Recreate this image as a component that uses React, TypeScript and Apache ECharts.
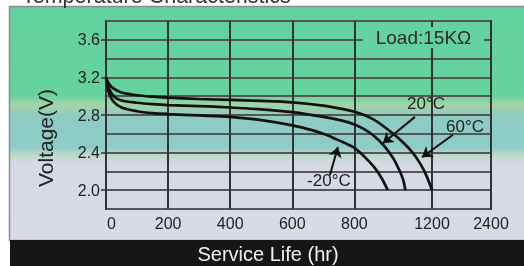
import React, { useEffect, useRef } from 'react';
import * as echarts from 'echarts';

// ---- data (hours, volts) ----
const xTickHours = [0, 200, 400, 600, 800, 1200, 2400];
const xTickLabels = ['0', '200', '400', '600', '800', '1200', '2400'];
const yTickValues = [2.0, 2.4, 2.8, 3.2, 3.6];

const hours60 = [0, 10, 25, 50, 100, 150, 200, 300, 400, 500, 600, 700, 760, 800, 850, 900, 950, 1000, 1050, 1100, 1140, 1170, 1200];
const volts60 = [3.2, 3.13, 3.08, 3.04, 3.01, 2.995, 2.985, 2.97, 2.96, 2.95, 2.935, 2.9, 2.865, 2.835, 2.8, 2.75, 2.68, 2.6, 2.51, 2.4, 2.28, 2.16, 2.0];

const hours20 = [0, 10, 25, 50, 100, 150, 200, 300, 400, 500, 600, 700, 760, 800, 850, 900, 950, 1000, 1030, 1050, 1063];
const volts20 = [3.2, 3.08, 3.0, 2.955, 2.93, 2.915, 2.905, 2.895, 2.88, 2.86, 2.83, 2.78, 2.74, 2.7, 2.65, 2.58, 2.48, 2.34, 2.22, 2.12, 2.0];

const hoursM20 = [0, 10, 25, 50, 100, 150, 200, 300, 400, 500, 600, 650, 700, 750, 800, 850, 900, 940, 972];
const voltsM20 = [3.2, 3.03, 2.94, 2.88, 2.84, 2.82, 2.81, 2.795, 2.78, 2.745, 2.69, 2.65, 2.6, 2.53, 2.45, 2.36, 2.25, 2.13, 2.0];

// annotation labels and arrows (hours, volts)
const labelNames = ['20°C', '60°C', '-20°C'];
const labelHours = [1169, 1871, 718];
const labelVolts = [2.92, 2.68, 2.1];
const arrowFromHours = [1112, 1627, 721];
const arrowFromVolts = [2.78, 2.59, 2.16];
const arrowToHours = [947, 1148, 747];
const arrowToVolts = [2.5, 2.35, 2.46];

// the original axis is not uniform: 0-800 linear, 800-1200 compressed, 1200-2400 more compressed
const toAxis = (h: number) =>
  h <= 800 ? h : h <= 1200 ? 800 + (h - 800) * 0.625 : 1050 + (h - 1200) * (190 / 1200);

const FONT = '"Liberation Sans", Arial, Helvetica, sans-serif';

export default function App() {
  const ref = useRef<HTMLDivElement>(null);
  useEffect(() => {
    if (!ref.current) return;
    const chart = echarts.init(ref.current, undefined, { renderer: 'svg' });
    const tickPos = xTickHours.map(toAxis);
    const pts = (hs: number[], vs: number[]) => hs.map((h, i) => [toAxis(h), vs[i]]);

    const bg = new echarts.graphic.LinearGradient(0, 0, 0, 1, [
      { offset: 0, color: '#62d39e' },
      { offset: 0.38, color: '#66d29e' },
      { offset: 0.42, color: '#a3d4a6' },
      { offset: 0.47, color: '#8dcbc3' },
      { offset: 0.6, color: '#8ecbc8' },
      { offset: 0.635, color: '#bcd9c6' },
      { offset: 0.67, color: '#d5d9e3' },
      { offset: 1, color: '#d8dbe5' },
    ]);

    const lineStyle = { color: '#111', width: 2.7 };
    const common = {
      type: 'line',
      smooth: 0.3,
      showSymbol: false,
      symbol: 'none',
      lineStyle,
      silent: true,
    };

    chart.setOption({
      animation: false,
      grid: {
        left: 106,
        right: 33,
        top: 21,
        bottom: 57,
        show: true,
        borderColor: '#222',
        borderWidth: 2,
        backgroundColor: 'transparent',
      },
      xAxis: {
        type: 'value',
        min: 0,
        max: toAxis(2400),
        axisLine: { show: false },
        axisTick: { show: false, customValues: tickPos },
        axisLabel: {
          customValues: tickPos,
          fontSize: 16,
          color: '#222',
          fontFamily: FONT,
          margin: 6,
          formatter: (v: number) => {
            const i = tickPos.findIndex((p) => Math.abs(p - v) < 1e-6);
            if (i < 0) return '';
            return i === 0 ? '{z|' + xTickLabels[i] + '}' : xTickLabels[i];
          },
          rich: { z: { padding: [0, 0, 0, 11], fontSize: 16, color: '#222', fontFamily: FONT } },
        },
        splitLine: { show: true, lineStyle: { color: '#333', width: 2 } },
      },
      yAxis: [
        {
          type: 'value',
          min: 1.8,
          max: 3.8,
          interval: 0.2,
          axisLine: { show: false },
          axisTick: { show: true, customValues: yTickValues, length: 5, lineStyle: { color: '#333', width: 1.5 } },
          axisLabel: {
            customValues: yTickValues,
            fontSize: 16,
            color: '#222',
            fontFamily: FONT,
            margin: 6,
            formatter: (v: number) => v.toFixed(1),
          },
          splitLine: { show: false },
        },
        {
          type: 'value',
          min: 1.8,
          max: 3.8,
          interval: 0.2,
          position: 'left',
          axisLine: { show: false },
          axisTick: { show: false },
          axisLabel: { show: false },
          splitLine: { show: true, lineStyle: { color: '#555', width: 2 } },
        },
      ],
      series: [
        {
          ...common,
          name: '60°C',
          data: pts(hours60, volts60),
          markLine: {
            silent: true,
            symbol: ['none', 'arrow'],
            symbolSize: 10,
            label: { show: false },
            lineStyle: { color: '#111', width: 2, type: 'solid' },
            data: arrowFromHours.map((h, i) => [
              { coord: [toAxis(h), arrowFromVolts[i]] },
              { coord: [toAxis(arrowToHours[i]), arrowToVolts[i]] },
            ]),
          },
          markPoint: {
            silent: true,
            symbol: 'circle',
            symbolSize: 1,
            itemStyle: { color: 'rgba(0,0,0,0)' },
            label: {
              show: true,
              position: 'inside',
              formatter: '{b}',
              fontSize: 17,
              color: '#1e1e1e',
              fontFamily: FONT,
            },
            data: labelNames.map((n, i) => ({ name: n, coord: [toAxis(labelHours[i]), labelVolts[i]] })),
          },
        },
        { ...common, name: '20°C', data: pts(hours20, volts20) },
        { ...common, name: '-20°C', data: pts(hoursM20, voltsM20) },
      ],
      graphic: [
        {
          type: 'rect',
          z: -10,
          silent: true,
          shape: { x: 9.5, y: 6.5, width: 520, height: 234 },
          style: { fill: bg, stroke: '#8c8c8c', lineWidth: 1.5 },
        },
        {
          type: 'rect',
          z: -9,
          silent: true,
          shape: { x: 10, y: 240, width: 514, height: 26 },
          style: { fill: '#161616' },
        },
        {
          type: 'text',
          x: 22,
          y: -4,
          silent: true,
          style: { text: 'Temperature Characteristics', fontSize: 21.5, fill: '#333', verticalAlign: 'middle', fontFamily: FONT },
        },
        {
          type: 'text',
          x: 45,
          y: 138,
          rotation: Math.PI / 2,
          silent: true,
          style: { text: 'Voltage(V)', fontSize: 21, fill: '#222', align: 'center', verticalAlign: 'middle', fontFamily: FONT },
        },
        {
          type: 'text',
          x: 268,
          y: 254,
          silent: true,
          style: { text: 'Service Life (hr)', fontSize: 20, fill: '#f2f2f2', align: 'center', verticalAlign: 'middle', fontFamily: FONT },
        },
        {
          type: 'text',
          x: 423.5,
          y: 37.5,
          z: 100,
          silent: true,
          style: {
            text: 'Load:15KΩ',
            fontSize: 19,
            fill: '#2a2a2a',
            align: 'center',
            verticalAlign: 'middle',
            fontFamily: FONT,
            backgroundColor: '#64d2a0',
            padding: [1, 13],
          },
        },
      ],
    });
    return () => chart.dispose();
  }, []);
  return <div ref={ref} style={{ position: 'fixed', left: 0, top: 0, width: 524, height: 266 }} />;
}
